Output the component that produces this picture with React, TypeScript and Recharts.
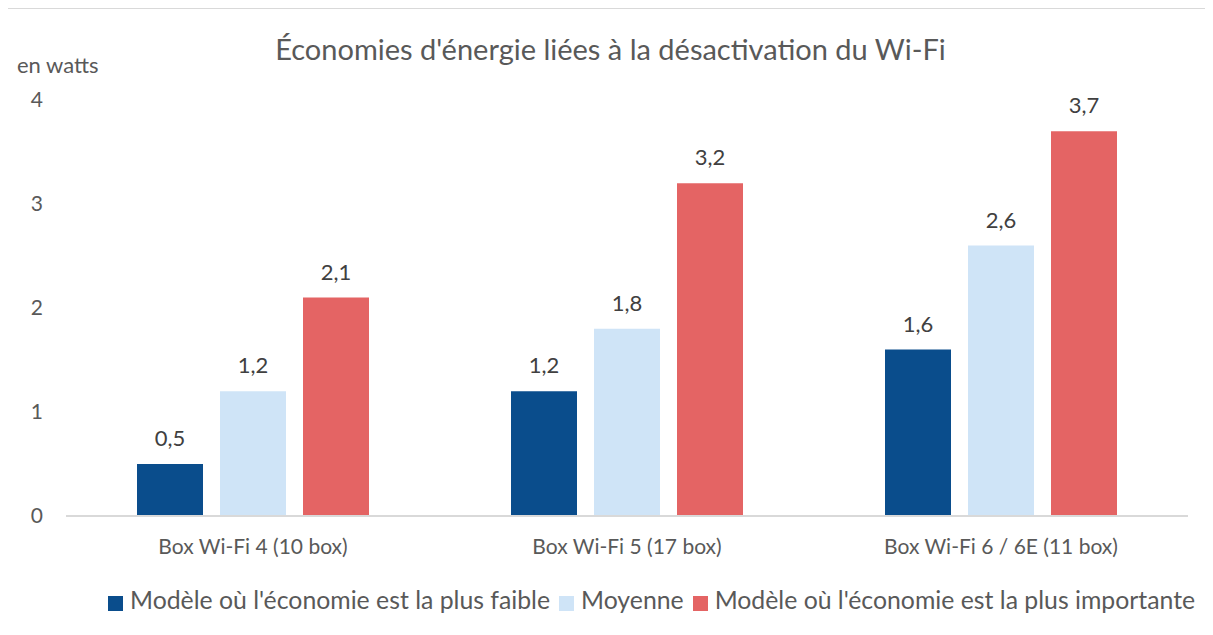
import { BarChart, Bar, XAxis, YAxis, LabelList, Legend } from "recharts";

const categories = ["Box Wi-Fi 4 (10 box)", "Box Wi-Fi 5 (17 box)", "Box Wi-Fi 6 / 6E (11 box)"];
const lowest = [0.5, 1.2, 1.6];
const average = [1.2, 1.8, 2.6];
const highest = [2.1, 3.2, 3.7];
const seriesNames = [
  "Modèle où l'économie est la plus faible",
  "Moyenne",
  "Modèle où l'économie est la plus importante",
];
const yTicks = [0, 1, 2, 3, 4];

const colors = ["#0A4D8C", "#CFE4F7", "#E46464"];
const textColor = "#595959";

const data = categories.map((name, i) => ({
  name,
  low: lowest[i],
  avg: average[i],
  high: highest[i],
}));

const fmt = (v: any) => String(v).replace(".", ",");

function LegendContent({ payload }: any) {
  const items = [...(payload || [])].sort(
    (a: any, b: any) => seriesNames.indexOf(a.value) - seriesNames.indexOf(b.value)
  );
  return (
    <div style={{ width: 1205, height: 45, display: "flex", paddingLeft: 100, boxSizing: "border-box" }}>
      {items.map((p: any) => (
        <div
          key={p.value}
          style={{ display: "flex", alignItems: "flex-start", height: 20, marginRight: 9, flexShrink: 0 }}
        >
          <span
            style={{ width: 15, height: 15, background: p.color, marginRight: 7, marginTop: 6, flexShrink: 0 }}
          />
          <span style={{ fontSize: 24.8, color: textColor, lineHeight: "20px", whiteSpace: "nowrap" }}>{p.value}</span>
        </div>
      ))}
    </div>
  );
}

export default function App() {
  return (
    <div
      style={{
        position: "relative",
        width: 1205,
        height: 626,
        marginLeft: -1,
        borderTop: "1px solid #d9d9d9",
        borderLeft: "1px solid #d9d9d9",
        fontFamily: "Lato",
        color: textColor,
      }}
    >
      <div
        style={{ position: "absolute", top: 25, left: 0, width: 1205, textAlign: "center", fontSize: 29, lineHeight: 1 }}
      >
        Économies d'énergie liées à la désactivation du Wi-Fi
      </div>
      <div style={{ position: "absolute", top: 45, left: 9, fontSize: 22, lineHeight: 1 }}>en watts</div>
      <BarChart
        width={1205}
        height={626}
        data={data}
        margin={{ top: 91, right: 25, bottom: 0, left: 0 }}
        barSize={66}
        barGap={17}
      >
        <XAxis
          dataKey="name"
          height={74}
          axisLine={{ stroke: "#d9d9d9", strokeWidth: 2 }}
          tickLine={false}
          tickMargin={17}
          tick={{ fill: textColor, fontSize: 21 }}
        />
        <YAxis
          width={58}
          domain={[0, 4]}
          ticks={yTicks}
          axisLine={false}
          tickLine={false}
          tickMargin={17}
          tick={{ fill: textColor, fontSize: 21 }}
        />
        <Legend verticalAlign="bottom" content={<LegendContent />} />
        <Bar dataKey="low" name={seriesNames[0]} fill={colors[0]} isAnimationActive={false}>
          <LabelList dataKey="low" position="top" offset={18} formatter={fmt} fill="#404040" fontSize={22} />
        </Bar>
        <Bar dataKey="avg" name={seriesNames[1]} fill={colors[1]} isAnimationActive={false}>
          <LabelList dataKey="avg" position="top" offset={18} formatter={fmt} fill="#404040" fontSize={22} />
        </Bar>
        <Bar dataKey="high" name={seriesNames[2]} fill={colors[2]} isAnimationActive={false}>
          <LabelList dataKey="high" position="top" offset={18} formatter={fmt} fill="#404040" fontSize={22} />
        </Bar>
      </BarChart>
    </div>
  );
}
